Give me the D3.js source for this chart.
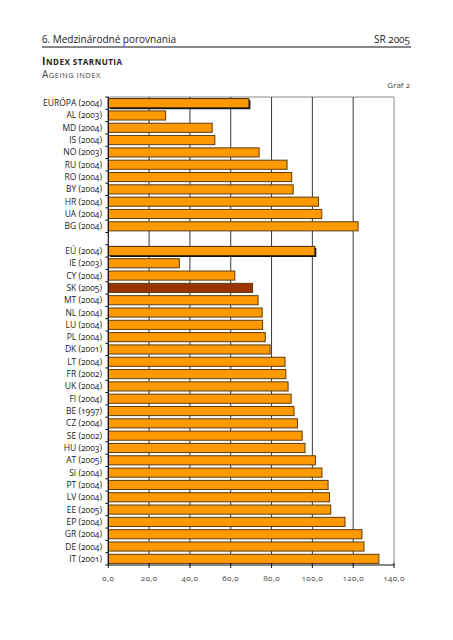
<!DOCTYPE html>
<html><head><meta charset="utf-8">
<script src="https://cdn.jsdelivr.net/npm/d3@7"></script>
<style>
body{margin:0;background:#fff;}
text{font-family:"Open Sans","Noto Sans",sans-serif;font-variant-numeric:oldstyle-nums;}
</style></head>
<body><svg id="c" width="453" height="640"></svg>
<script>
const categories = ["EURÓPA (2004)","AL (2003)","MD (2004)","IS (2004)","NO (2003)","RU (2004)","RO (2004)","BY (2004)","HR (2004)","UA (2004)","BG (2004)","",
"EÚ (2004)","IE (2003)","CY (2004)","SK (2005)","MT (2004)","NL (2004)","LU (2004)","PL (2004)","DK (2001)","LT (2004)","FR (2002)","UK (2004)","FI (2004)","BE (1997)","CZ (2004)","SE (2002)","HU (2003)","AT (2005)","SI (2004)","PT (2004)","LV (2004)","EE (2005)","EP (2004)","GR (2004)","DE (2004)","IT (2001)"];
const values = [68.9,28.1,50.9,52.2,73.9,87.6,89.9,90.6,103.0,104.6,122.4,null,
101.2,34.8,62.0,70.7,73.4,75.4,75.6,76.9,79.3,86.6,87.0,88.1,89.6,91.0,92.7,95.0,96.4,101.5,104.7,107.7,108.4,109.0,116.0,124.3,125.3,132.6];
const aggregates = ["EURÓPA (2004)","EÚ (2004)"];
const highlight = ["SK (2005)"];
const xTicks = [0,20,40,60,80,100,120,140];
const tickLabels = ["0,0","20,0","40,0","60,0","80,0","100,0","120,0","140,0"];

const svg = d3.select("#c");
const L=108.3, R=394, T=97, B=565;
const x = d3.scaleLinear().domain([0,140]).range([L,R]);
const y = d3.scaleBand().domain(d3.range(categories.length)).range([T,B]).paddingInner(0.26).paddingOuter(0.13);
const yb = d3.scaleBand().domain(d3.range(categories.length)).range([T,B]);

// header
svg.append("text").attr("x",42).attr("y",43).attr("font-size",10).attr("fill","#222").text("6. Medzinárodné porovnania");
svg.append("text").attr("x",410).attr("y",43).attr("text-anchor","end").attr("font-size",10).attr("fill","#222").text("SR 2005");
svg.append("line").attr("x1",42).attr("x2",411).attr("y1",47).attr("y2",47).attr("stroke","#111").attr("stroke-width",1);
const t1 = svg.append("text").attr("x",42).attr("y",65).attr("font-weight","bold").attr("fill","#222").attr("letter-spacing","0.5px");
t1.append("tspan").attr("font-size",10.5).text("I");
t1.append("tspan").attr("font-size",8).text("NDEX STARNUTIA");
const t2 = svg.append("text").attr("x",42).attr("y",78).attr("fill","#444").attr("letter-spacing","0.5px");
t2.append("tspan").attr("font-size",10).text("A");
t2.append("tspan").attr("font-size",7.5).text("GEING INDEX");
svg.append("text").attr("x",410).attr("y",88).attr("text-anchor","end").attr("font-size",8).attr("fill","#444").text("Graf 2");

// frame + grid
svg.append("line").attr("x1",L).attr("x2",R).attr("y1",T).attr("y2",T).attr("stroke","#888");
svg.append("line").attr("x1",R).attr("x2",R).attr("y1",T).attr("y2",B).attr("stroke","#888");
svg.selectAll(".g").data(xTicks.slice(1,-1)).enter().append("line")
  .attr("x1",d=>x(d)).attr("x2",d=>x(d)).attr("y1",T).attr("y2",B).attr("stroke","#222").attr("stroke-width",0.9);

// bars
const rows = categories.map((c,i)=>({c,i,v:values[i]})).filter(d=>d.v!=null);
svg.selectAll(".sh").data(rows.filter(d=>aggregates.includes(d.c))).enter().append("rect")
  .attr("x",x(0)+1.5).attr("y",d=>y(d.i)+1.5).attr("width",d=>x(d.v)-x(0)).attr("height",y.bandwidth()).attr("fill","#111");
svg.selectAll(".b").data(rows).enter().append("rect")
  .attr("x",x(0)).attr("y",d=>y(d.i)).attr("width",d=>x(d.v)-x(0)).attr("height",y.bandwidth())
  .attr("fill",d=>highlight.includes(d.c)?"#993300":"#ff9900")
  .attr("stroke",d=>aggregates.includes(d.c)?"#4a2a00":"#5c3c10").attr("stroke-width",1);

// y axis
svg.append("line").attr("x1",L).attr("x2",L).attr("y1",T).attr("y2",B).attr("stroke","#111").attr("stroke-width",1.2);
svg.selectAll(".yt").data(d3.range(categories.length+1)).enter().append("line")
  .attr("x1",L-3).attr("x2",L).attr("y1",i=>T+i*yb.step()).attr("y2",i=>T+i*yb.step()).attr("stroke","#111");
svg.selectAll(".yl").data(categories.map((c,i)=>({c,i}))).enter().append("text")
  .attr("x",102).attr("y",d=>yb(d.i)+yb.bandwidth()/2+3).attr("text-anchor","end").attr("font-size",8.5).attr("fill","#222").text(d=>d.c);

// x axis
svg.append("line").attr("x1",L).attr("x2",R).attr("y1",B).attr("y2",B).attr("stroke","#111").attr("stroke-width",1.2);
svg.selectAll(".xt").data(xTicks).enter().append("line")
  .attr("x1",d=>x(d)).attr("x2",d=>x(d)).attr("y1",B-2).attr("y2",B+3).attr("stroke","#111");
svg.selectAll(".xl").data(xTicks).enter().append("text")
  .attr("x",d=>x(d)).attr("y",B+16).attr("text-anchor","middle").attr("font-size",8).attr("fill","#444").attr("letter-spacing","0.4px")
  .text((d,i)=>tickLabels[i]);
</script></body></html>
